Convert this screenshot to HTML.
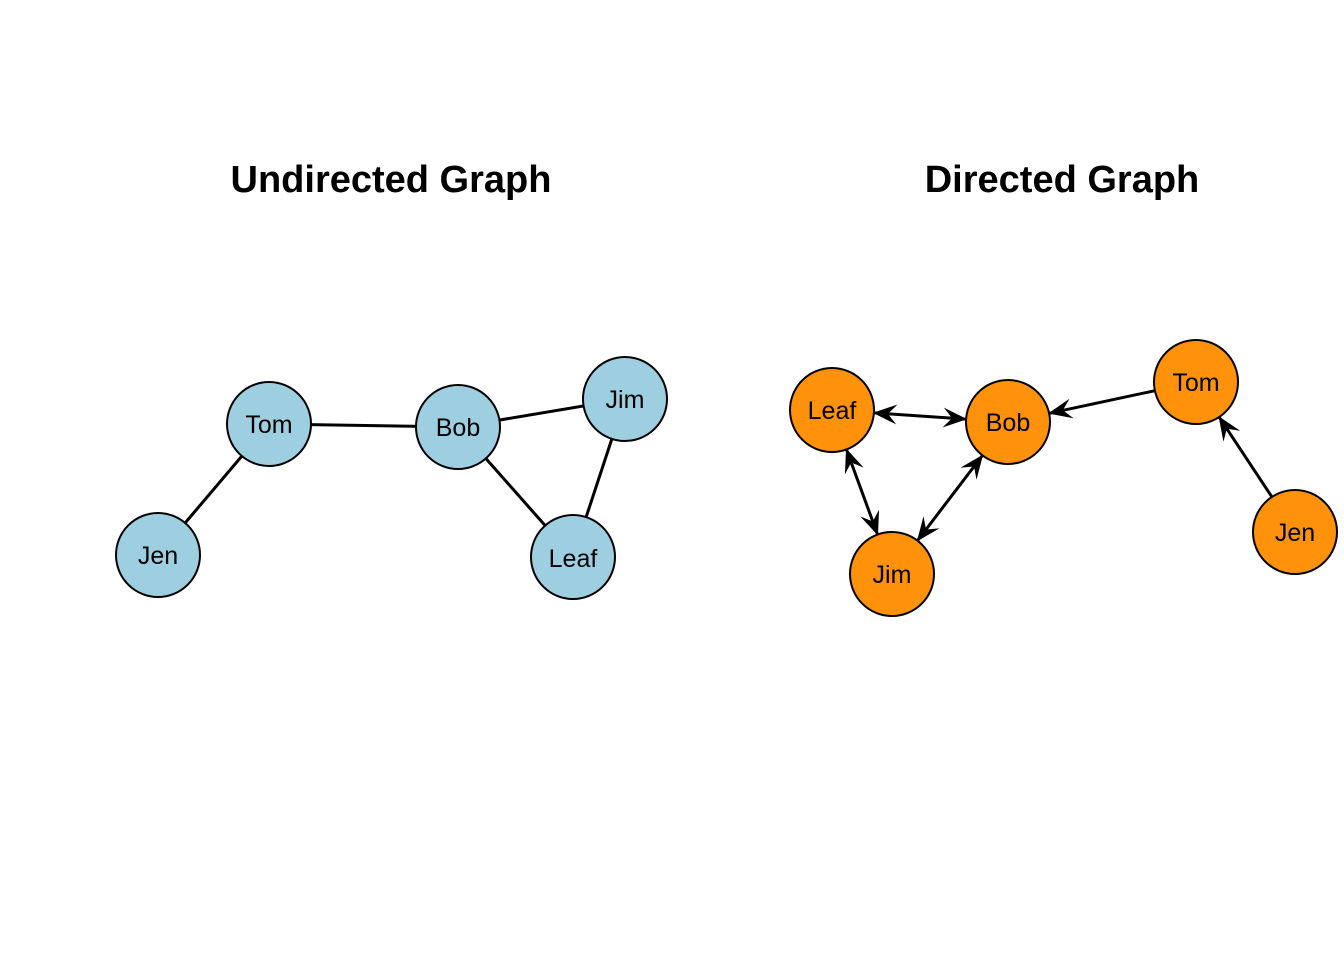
<!DOCTYPE html>
<html><head><meta charset="utf-8"><style>
html,body{margin:0;padding:0;background:#fff;}
svg{display:block;}
text{font-family:"Liberation Sans",Arial,sans-serif;}
</style></head><body>
<svg width="1344" height="960" viewBox="0 0 1344 960" xmlns="http://www.w3.org/2000/svg">
<defs>
<marker id="a" viewBox="0 0 24 20" refX="23" refY="10" markerWidth="24" markerHeight="20" markerUnits="userSpaceOnUse" orient="auto-start-reverse">
<path d="M0,0 L24,10 L0,20 L9,10 z" fill="#000"/>
</marker>
</defs>
<text x="391" y="192" font-size="38" font-weight="bold" text-anchor="middle">Undirected Graph</text>
<text x="1062" y="192" font-size="38" font-weight="bold" text-anchor="middle">Directed Graph</text>
<g stroke="#000" stroke-width="3">
<line x1="158" y1="555" x2="269" y2="424"/>
<line x1="269" y1="424" x2="458" y2="427"/>
<line x1="458" y1="427" x2="625" y2="399"/>
<line x1="458" y1="427" x2="573" y2="557"/>
<line x1="625" y1="399" x2="573" y2="557"/>
</g>
<g fill="#9ECFE0" stroke="#000" stroke-width="2">
<circle cx="269" cy="424" r="42"/>
<circle cx="458" cy="427" r="42"/>
<circle cx="625" cy="399" r="42"/>
<circle cx="573" cy="557" r="42"/>
<circle cx="158" cy="555" r="42"/>
</g>
<g font-size="25" text-anchor="middle">
<text x="269" y="433">Tom</text>
<text x="458" y="436">Bob</text>
<text x="625" y="408">Jim</text>
<text x="573" y="567">Leaf</text>
<text x="158" y="564">Jen</text>
</g>
<g stroke="#000" stroke-width="3">
<line x1="873.9" y1="412.9" x2="966.1" y2="419.1" marker-start="url(#a)" marker-end="url(#a)"/>
<line x1="1154.9" y1="390.7" x2="1049.1" y2="413.3" marker-end="url(#a)"/>
<line x1="1271.9" y1="496.9" x2="1219.1" y2="417.1" marker-end="url(#a)"/>
<line x1="846.4" y1="449.4" x2="877.6" y2="534.6" marker-start="url(#a)" marker-end="url(#a)"/>
<line x1="917.5" y1="540.6" x2="982.5" y2="455.4" marker-start="url(#a)" marker-end="url(#a)"/>
</g>
<g fill="#FF920A" stroke="#000" stroke-width="2">
<circle cx="832" cy="410" r="42"/>
<circle cx="1008" cy="422" r="42"/>
<circle cx="1196" cy="382" r="42"/>
<circle cx="1295" cy="532" r="42"/>
<circle cx="892" cy="574" r="42"/>
</g>
<g font-size="25" text-anchor="middle">
<text x="832" y="419">Leaf</text>
<text x="1008" y="431">Bob</text>
<text x="1196" y="391">Tom</text>
<text x="1295" y="541">Jen</text>
<text x="892" y="583">Jim</text>
</g>
</svg>
</body></html>
